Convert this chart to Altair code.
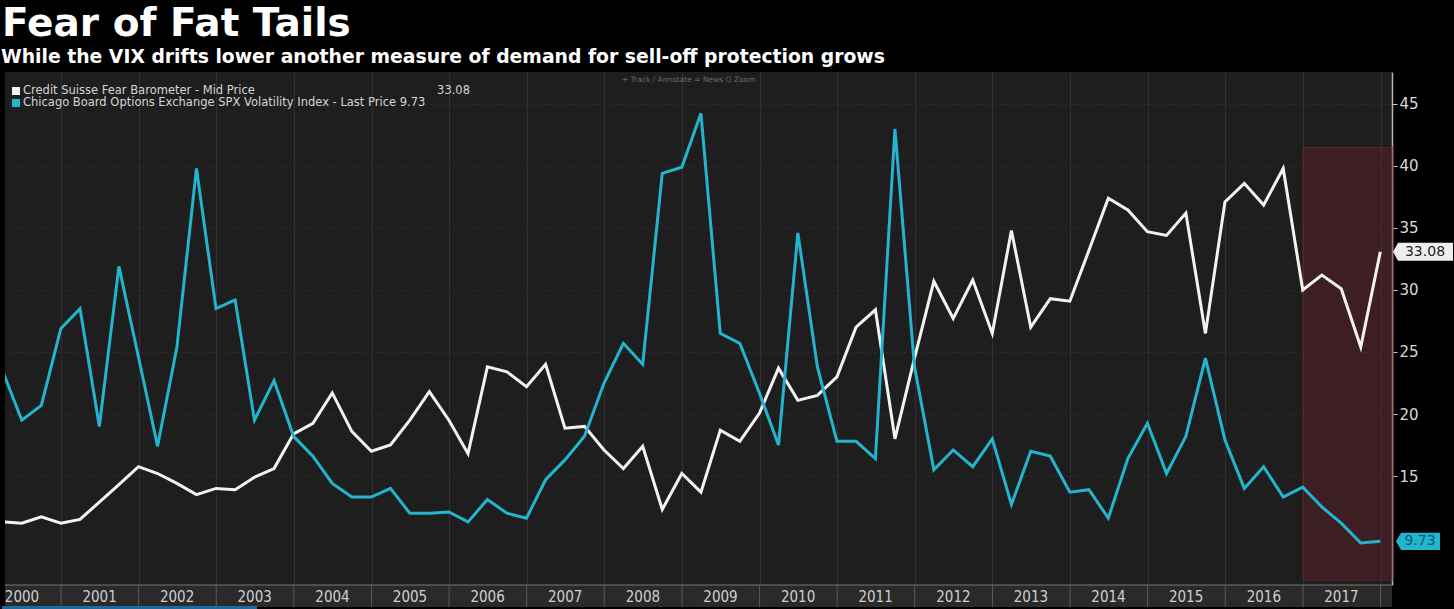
import altair as alt
import pandas as pd

TITLE = "Fear of Fat Tails"
SUBTITLE = "While the VIX drifts lower another measure of demand for sell-off protection grows"
SERIES = ["Credit Suisse Fear Barometer - Mid Price",
          "Chicago Board Options Exchange SPX Volatility Index - Last Price"]
COLORS = ["#f2f2f2", "#22b5cd"]

quarter_md = ["03-31", "06-30", "09-30", "12-31"]
dates = [f"{y}-{md}" for y in range(2000, 2018) for md in quarter_md]

fear = [11.3, 11.2, 11.7, 11.2, 11.5, 12.9, 14.3, 15.75, 15.2, 14.4,
        13.5, 14.0, 13.9, 14.9, 15.6, 18.4, 19.25, 21.7, 18.6, 17.0,
        17.5, 19.5, 21.8, 19.5, 16.8, 23.8, 23.4, 22.2, 24.0, 18.85,
        19.0, 17.1, 15.6, 17.4, 12.3, 15.2, 13.7, 18.7, 17.8, 20.05,
        23.7, 21.1, 21.5, 23.0, 27.0, 28.4, 18.0, 24.5, 30.7, 27.7,
        30.8, 26.5, 34.8, 27.0, 29.3, 29.1, 33.2, 37.4, 36.45, 34.7,
        34.4, 36.2, 26.5, 37.1, 38.6, 36.85, 39.8, 30.0, 31.2, 30.1,
        25.4, 33.08]

vix = [23.5, 19.5, 20.7, 26.9, 28.5, 19.0, 31.9, 24.6, 17.4, 25.4,
       39.8, 28.5, 29.2, 19.5, 22.7, 18.2, 16.6, 14.4, 13.3, 13.3,
       14.0, 12.0, 12.0, 12.1, 11.3, 13.1, 12.0, 11.6, 14.7, 16.3,
       18.2, 22.5, 25.7, 24.0, 39.4, 39.9, 44.25, 26.5, 25.7, 21.7,
       17.5, 34.6, 23.8, 17.8, 17.8, 16.4, 43.0, 23.8, 15.5, 17.1,
       15.75, 18.0, 12.7, 17.0, 16.6, 13.7, 13.9, 11.6, 16.4, 19.25,
       15.2, 18.2, 24.5, 17.9, 14.0, 15.75, 13.3, 14.1, 12.5, 11.2,
       9.6, 9.73]

years = list(range(2000, 2018))
boundaries = list(range(2001, 2019))
y_ticks = [15, 20, 25, 30, 35, 40, 45]
highlight = {"start": "2017-01-01", "end": "2018-03-04", "top": 41.5, "bottom": 6.6}

W, H = 1387, 513
FONT = "DejaVu Sans"
NARROW = "Liberation Sans Narrow, DejaVu Sans Condensed, Roboto, sans-serif"

x_scale = alt.Scale(domain=[alt.DateTime(year=2000, month=4, date=12, utc=True),
                            alt.DateTime(year=2018, month=2, date=24, utc=True)])
y_scale = alt.Scale(domain=[6.21, 47.58], zero=False, nice=False)

df = pd.DataFrame({
    "date": dates * 2,
    "series": [SERIES[0]] * len(dates) + [SERIES[1]] * len(dates),
    "value": fear + vix,
})

one = pd.DataFrame({"k": [0]})

# bottom axis band
band = alt.Chart(one).mark_rect(color="#2a2a2a").encode(
    x=alt.value(0), x2=alt.value(W), y=alt.value(H), y2=alt.value(H + 22))
band_top = alt.Chart(one).mark_rule(color="#777777", strokeWidth=1).encode(
    x=alt.value(0), x2=alt.value(W), y=alt.value(H))
blue_bar = alt.Chart(one).mark_rect(color="#1c6aa0").encode(
    x=alt.value(-3), x2=alt.value(252), y=alt.value(H + 21), y2=alt.value(H + 24))

sep_df = pd.DataFrame({"date": [f"{y}-01-01" for y in boundaries]})
separators = alt.Chart(sep_df).mark_rule(color="#5a5a5a", strokeWidth=1).encode(
    x=alt.X("date:T", scale=x_scale), y=alt.value(H), y2=alt.value(H + 22))

year_df = pd.DataFrame({"date": [f"{y}-07-01" for y in years], "label": [str(y) for y in years]})
year_labels = alt.Chart(year_df).mark_text(
    font=NARROW, fontSize=15, color="#d0d0d0", baseline="middle", align="center"
).encode(x=alt.X("date:T", scale=x_scale), y=alt.value(H + 12), text="label:N")

hl_df = pd.DataFrame([highlight])
hl = alt.Chart(hl_df).mark_rect(fill="#6a1f2a", fillOpacity=0.42, stroke="#7a2a32",
                                strokeOpacity=0.6, strokeWidth=1).encode(
    x=alt.X("start:T", scale=x_scale), x2="end:T",
    y=alt.Y("top:Q", scale=y_scale), y2="bottom:Q")

lines = alt.Chart(df).mark_line(strokeWidth=3, clip=True, strokeJoin="miter").encode(
    x=alt.X("date:T", scale=x_scale,
            axis=alt.Axis(values=[alt.DateTime(year=y, month=1, date=1, utc=True) for y in boundaries],
                          labels=False, ticks=False, domain=False, grid=True,
                          gridColor="#303030", gridWidth=1, title=None)),
    y=alt.Y("value:Q", scale=y_scale,
            axis=alt.Axis(orient="right", values=y_ticks, title=None, labelColor="#d8d8d8",
                          labelFont=FONT, labelFontSize=15, labelPadding=2, tickSize=5,
                          tickColor="#cccccc", domainColor="#b5b5b5", domainWidth=1.5,
                          grid=True, gridColor="#2b2b2b", gridDash=[3, 3])),
    color=alt.Color("series:N", scale=alt.Scale(domain=SERIES, range=COLORS), legend=None),
    order="date:T",
)

# right-edge value boxes
last_fear = pd.DataFrame({"value": [fear[-1]], "label": [f"{fear[-1]:.2f}"]})
last_vix = pd.DataFrame({"value": [vix[-1]], "label": [f"{vix[-1]:.2f}"]})
box_fear = alt.Chart(last_fear).mark_point(
    shape="M -1 0 L -0.83 -0.3 L 1 -0.3 L 1 0.3 L -0.83 0.3 Z",
    filled=True, fill="#eeeeee", opacity=1, size=3600, strokeWidth=0
).encode(x=alt.value(W + 31), y=alt.Y("value:Q", scale=y_scale))
txt_fear = alt.Chart(last_fear).mark_text(
    font=FONT, fontSize=14, color="#222222", align="center", baseline="middle"
).encode(x=alt.value(W + 33), y=alt.Y("value:Q", scale=y_scale), text="label:N")
box_vix = alt.Chart(last_vix).mark_point(
    shape="M -1 0 L -0.77 -0.39 L 1 -0.39 L 1 0.39 L -0.77 0.39 Z",
    filled=True, fill="#22b5cd", opacity=1, size=1936, strokeWidth=0
).encode(x=alt.value(W + 26), y=alt.Y("value:Q", scale=y_scale))
txt_vix = alt.Chart(last_vix).mark_text(
    font=FONT, fontSize=14, color="#0d5a7a", align="center", baseline="middle"
).encode(x=alt.value(W + 28), y=alt.Y("value:Q", scale=y_scale), text="label:N")

# legend
leg_sq1 = alt.Chart(one).mark_square(size=64, color=COLORS[0], opacity=1).encode(
    x=alt.value(11), y=alt.value(19))
leg_sq2 = alt.Chart(one).mark_square(size=64, color=COLORS[1], opacity=1).encode(
    x=alt.value(11), y=alt.value(31))
leg_t1 = alt.Chart(one).mark_text(font=FONT, fontSize=11.5, color="#d5d5d5", align="left",
                                  baseline="middle", text=SERIES[0]).encode(
    x=alt.value(18), y=alt.value(19))
leg_v1 = alt.Chart(one).mark_text(font=FONT, fontSize=11.5, color="#d5d5d5", align="right",
                                  baseline="middle", text=f"{fear[-1]:.2f}").encode(
    x=alt.value(465), y=alt.value(19))
leg_t2 = alt.Chart(one).mark_text(font=FONT, fontSize=11.5, color="#d5d5d5", align="left",
                                  baseline="middle", text=f"{SERIES[1]} {vix[-1]:.2f}").encode(
    x=alt.value(18), y=alt.value(31))
toolbar = alt.Chart(one).mark_text(font=FONT, fontSize=7.5, color="#6a6a6a", align="left",
                                   baseline="middle",
                                   text="+ Track    / Annotate    = News    Q Zoom").encode(
    x=alt.value(617), y=alt.value(8))

title = alt.Chart(one).mark_text(font=FONT, fontSize=39, fontWeight="bold", color="#ffffff",
                                 align="left", baseline="alphabetic", text=TITLE).encode(
    x=alt.value(-3), y=alt.value(-36))
subtitle = alt.Chart(one).mark_text(font=FONT, fontSize=18.8, fontWeight="bold", color="#ffffff",
                                    align="left", baseline="alphabetic", text=SUBTITLE).encode(
    x=alt.value(-4), y=alt.value(-9))

chart = alt.layer(
    band, separators, band_top, blue_bar, year_labels, hl, lines,
    box_fear, txt_fear, box_vix, txt_vix,
    leg_sq1, leg_sq2, leg_t1, leg_v1, leg_t2, toolbar, title, subtitle,
).properties(
    width=W, height=H,
    padding={"left": 5, "top": 72, "right": 62, "bottom": 24},
    autosize="none",
).configure(background="#000000").configure_view(fill="#1e1e1e", strokeWidth=0)

chart.save("out.html", embed_options={"renderer": "svg", "actions": False})
